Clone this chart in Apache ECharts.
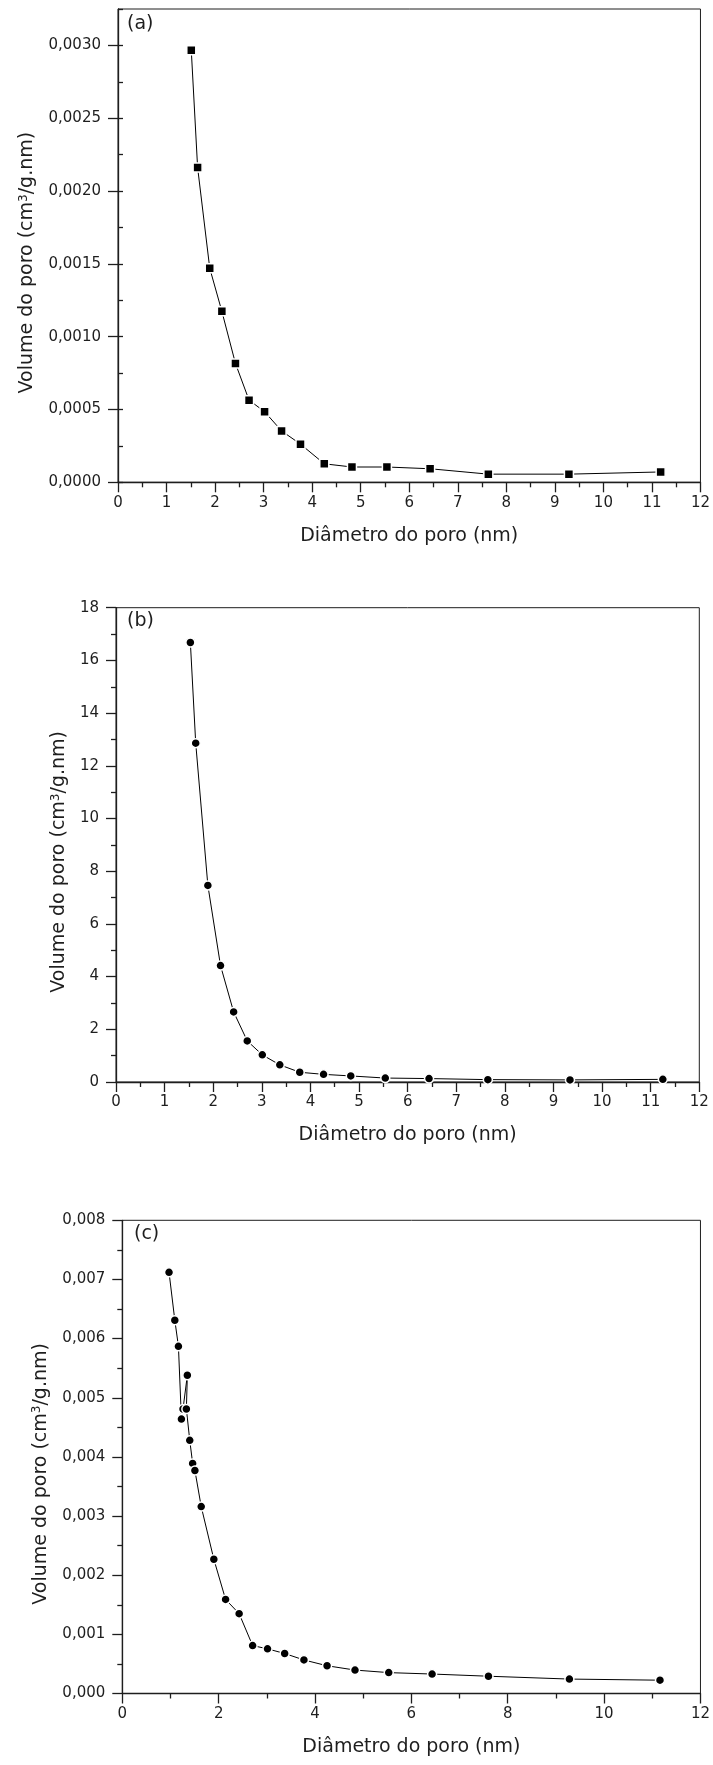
<!DOCTYPE html>
<html><head><meta charset="utf-8">
<script src="https://cdn.jsdelivr.net/npm/echarts@6/dist/echarts.min.js"></script>
<style>html,body{margin:0;padding:0;background:#fff}#c{width:713px;height:1765px}</style>
</head><body><div id="c"></div>
<script>
// Panel (a)
const diamA = [1.51, 1.64, 1.89, 2.14, 2.42, 2.70, 3.02, 3.37, 3.76, 4.25, 4.82, 5.54, 6.43, 7.63, 9.29, 11.18];
const volA = [0.002966, 0.002162, 0.00147, 0.001174, 0.000816, 0.000564, 0.000485, 0.000353, 0.000262, 0.000127, 0.000105, 0.000105, 0.000093, 0.000056, 0.000056, 0.000071];
// Panel (b)
const diamB = [1.53, 1.64, 1.89, 2.15, 2.42, 2.70, 3.01, 3.37, 3.78, 4.27, 4.83, 5.54, 6.44, 7.65, 9.34, 11.25];
const volB = [16.68, 12.86, 7.46, 4.42, 2.66, 1.56, 1.03, 0.65, 0.37, 0.29, 0.23, 0.15, 0.13, 0.09, 0.08, 0.10];
// Panel (c)
const diamC = [0.97, 1.09, 1.165, 1.227, 1.26, 1.35, 1.33, 1.40, 1.46, 1.507, 1.638, 1.90, 2.144, 2.425, 2.705, 3.014, 3.37, 3.77, 4.25, 4.83, 5.53, 6.43, 7.60, 9.28, 11.16];
const volC = [0.00712, 0.00631, 0.00587, 0.00464, 0.00481, 0.00538, 0.00481, 0.00428, 0.00389, 0.00377, 0.00316, 0.00227, 0.00159, 0.00135, 0.00081, 0.000755, 0.000676, 0.000567, 0.000469, 0.000396, 0.000353, 0.000329, 0.000292, 0.000244, 0.000225];
// Tick labels
const ticksYA = [0, 0.0005, 0.001, 0.0015, 0.002, 0.0025, 0.003];
const xName = 'Diâmetro do poro (nm)';
const yName = 'Volume do poro (cm{s|3}/g.nm)';
const panelLabels = ['(a)', '(b)', '(c)'];

const FONT = '"DejaVu Sans", sans-serif';
const INK = '#1e1e1e';
const zip = (xs, ys) => xs.map((x, i) => [x, ys[i]]);
const comma = d => v => v.toFixed(d).replace('.', ',');

function xAxis(grid, interval) {
  return {
    type: 'value', gridIndex: grid, min: 0, max: 12, interval: interval,
    name: xName, nameLocation: 'middle', nameGap: 44,
    nameTextStyle: {fontFamily: FONT, fontSize: 19, color: INK},
    axisLine: {onZero: false, lineStyle: {color: INK, width: 1.3}},
    axisTick: {inside: false, length: 10, lineStyle: {color: INK, width: 1.3}},
    minorTick: {show: true, splitNumber: 2, length: 5, lineStyle: {color: INK, width: 1.3}},
    axisLabel: {fontFamily: FONT, fontSize: 15, color: INK, margin: 13},
    splitLine: {show: false}
  };
}
function yAxis(grid, max, interval, fmt, gap, extra) {
  return Object.assign({
    type: 'value', gridIndex: grid, min: 0, max: max, interval: interval,
    name: yName, nameLocation: 'middle', nameGap: gap,
    nameTextStyle: {fontFamily: FONT, fontSize: 19, color: INK, padding: [0, 34, 0, 0],
      rich: {s: {fontFamily: FONT, fontSize: 12, color: INK, verticalAlign: 'top'}}},
    axisLine: {onZero: false, lineStyle: {color: INK, width: 1.3}},
    axisTick: {inside: false, length: 10, lineStyle: {color: INK, width: 1.3}},
    minorTick: {show: true, splitNumber: 2, length: 5, lineStyle: {color: INK, width: 1.3}},
    axisLabel: {fontFamily: FONT, fontSize: 15, color: INK, margin: 17, formatter: fmt},
    splitLine: {show: false}
  }, extra || {});
}
function series(xi, yi, xs, ys, sym) {
  return {
    type: 'line', xAxisIndex: xi, yAxisIndex: yi, data: zip(xs, ys),
    symbol: sym, symbolSize: 9, showSymbol: true,
    itemStyle: {color: '#000', borderColor: '#fff', borderWidth: 1.5},
    lineStyle: {color: '#000', width: 1},
    z: 3
  };
}

const chart = echarts.init(document.getElementById('c'), null, {renderer: 'canvas'});
const fmtA = v => (Math.abs(v / 0.0005 - Math.round(v / 0.0005)) < 1e-6 ? comma(4)(v) : '');
chart.setOption({
  animation: false,
  backgroundColor: '#fff',
  grid: [
    {left: 118, top: 9, width: 583.5, height: 473.3, show: true, borderColor: INK, borderWidth: 1},
    {left: 116, top: 607.7, width: 583.3, height: 474.3, show: true, borderColor: INK, borderWidth: 1},
    {left: 122.3, top: 1220.3, width: 582.4, height: 473.2, show: true, borderColor: INK, borderWidth: 1}
  ],
  xAxis: [xAxis(0, 1), xAxis(1, 1), xAxis(2, 2)],
  yAxis: [
    yAxis(0, 0.00325, 0.0005, fmtA, 81, {
      minorTick: {show: false},
      axisTick: {inside: false, length: 10, lineStyle: {color: INK, width: 1.3}, customValues: ticksYA},
      axisLabel: {fontFamily: FONT, fontSize: 15, color: INK, margin: 17, formatter: fmtA, customValues: ticksYA}
    }),
    yAxis(1, 18, 2, v => String(v), 47),
    yAxis(2, 0.008, 0.001, comma(3), 72),
    {type: 'value', gridIndex: 0, min: 0, max: 0.00325, interval: 0.00025,
     axisLine: {show: false}, axisLabel: {show: false}, splitLine: {show: false},
     axisTick: {inside: false, length: 5, lineStyle: {color: INK, width: 1.3}}}
  ],
  series: [
    series(0, 0, diamA, volA, 'rect'),
    series(1, 1, diamB, volB, 'circle'),
    series(2, 2, diamC, volC, 'circle')
  ],
  graphic: [
    {type: 'text', left: 127, top: 15, style: {text: panelLabels[0], font: '19px ' + FONT, fill: INK}},
    {type: 'text', left: 127, top: 612, style: {text: panelLabels[1], font: '19px ' + FONT, fill: INK}},
    {type: 'text', left: 134, top: 1225, style: {text: panelLabels[2], font: '19px ' + FONT, fill: INK}}
  ]
});
</script></body></html>
